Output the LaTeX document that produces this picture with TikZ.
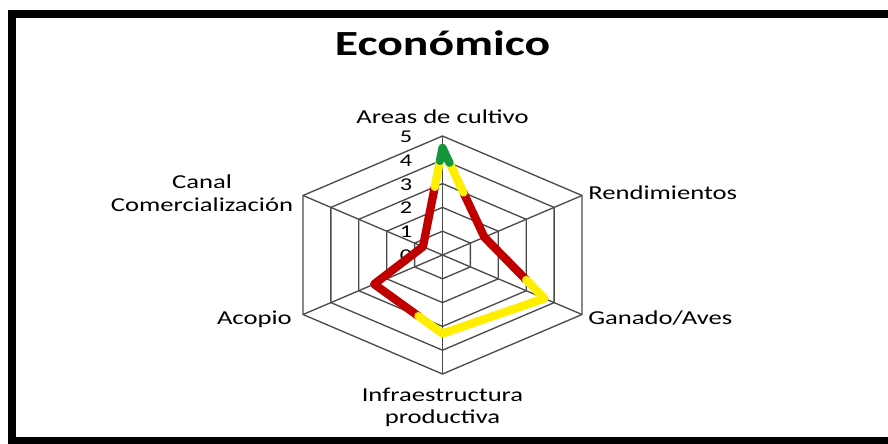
\documentclass[tikz,border=0pt]{standalone}
\usepackage{fontspec}
\setmainfont{Carlito}
\usepackage{graphicx}
\usetikzlibrary{calc}
\definecolor{gridc}{RGB}{75,75,75}
\definecolor{dred}{RGB}{192,0,0}
\definecolor{dyel}{RGB}{255,238,0}
\definecolor{dgrn}{RGB}{20,150,60}
\newcommand{\hs}[1]{\scalebox{1.35}[1]{#1}}
\begin{document}
\begin{tikzpicture}[x=0.75pt,y=-0.75pt,
  gridline/.style={draw=gridc,line width=1pt},
  axlab/.style={inner sep=0pt,font=\fontsize{14.8}{17}\selectfont},
  numlab/.style={inner sep=0pt,anchor=base east,font=\fontsize{13.5}{15}\selectfont},
  dataline/.style={line width=6.2pt,line cap=round,line join=round}]
\useasboundingbox (0,0) rectangle (888,443);
\fill[white] (0,0) rectangle (888,443);
% frame
\draw[line width=6pt] (12,14) rectangle (893,441);
% title
\node[inner sep=0pt,anchor=base,font=\fontsize{26.5}{30}\selectfont\bfseries] (title) at (442.5,55) {\hs{Económico}};
% axes
\coordinate (O) at (442.5,255);
\coordinate (E0) at (442.5,136);
\coordinate (E1) at (582,195.5);
\coordinate (E2) at (582,314.5);
\coordinate (E3) at (442.5,374);
\coordinate (E4) at (303,314.5);
\coordinate (E5) at (303,195.5);
\foreach \k in {1,...,5}{
  \draw[gridline] ($(O)!\k/5!(E0)$) -- ($(O)!\k/5!(E1)$) -- ($(O)!\k/5!(E2)$) -- ($(O)!\k/5!(E3)$) -- ($(O)!\k/5!(E4)$) -- ($(O)!\k/5!(E5)$) -- cycle;
}
\foreach \i in {0,...,5}{ \draw[gridline] (O) -- (E\i); }
% scale numbers
\foreach \k in {0,...,5}{
  \node[numlab] (n\k) at (412.5,{261.5-23.8*\k}) {\hs{\k}};
}
% axis labels
\node[axlab,anchor=base] (la) at (442.5,123) {\hs{Areas de cultivo}};
\node[axlab,anchor=base west] (lr) at (588,199) {\hs{Rendimientos}};
\node[axlab,anchor=base west] (lg) at (588,324) {\hs{Ganado/Aves}};
\node[axlab,anchor=base] (li1) at (442.5,401) {\hs{Infraestructura}};
\node[axlab,anchor=base] (li2) at (442.5,423) {\hs{productiva}};
\node[axlab,anchor=base east] (lac) at (292,324) {\hs{Acopio}};
\node[axlab,anchor=base] (lc1) at (202,188) {\hs{Canal}};
\node[axlab,anchor=base] (lc2) at (202,211) {\hs{Comercialización}};
% data points
\coordinate (PA) at ($(O)!0.9!(E0)$);
\coordinate (PR) at ($(O)!0.3!(E1)$);
\coordinate (PG) at ($(O)!0.73!(E2)$);
\coordinate (PI) at ($(O)!0.66!(E3)$);
\coordinate (PAc) at ($(O)!0.49!(E4)$);
\coordinate (PC) at ($(O)!0.14!(E5)$);
% colour breaks (red < 3 <= yellow < 4 <= green)
\coordinate (ar4) at ($(PA)!0.1667!(PR)$);
\coordinate (ar3) at ($(PA)!0.5!(PR)$);
\coordinate (rg3) at ($(PR)!0.698!(PG)$);
\coordinate (ia3) at ($(PI)!0.353!(PAc)$);
\coordinate (ca3) at ($(PC)!0.605!(PA)$);
\coordinate (ca4) at ($(PC)!0.868!(PA)$);
\draw[dataline,dred] (ar3) -- (PR) -- (rg3);
\draw[dataline,dred] (ia3) -- (PAc) -- (PC) -- (ca3);
\draw[dataline,dyel] (ar4) -- (ar3);
\draw[dataline,dyel] (rg3) -- (PG) -- (PI) -- (ia3);
\draw[dataline,dyel] (ca3) -- (ca4);
\draw[dataline,dgrn] (ca4) -- (PA) -- (ar4);
\end{tikzpicture}
\end{document}
